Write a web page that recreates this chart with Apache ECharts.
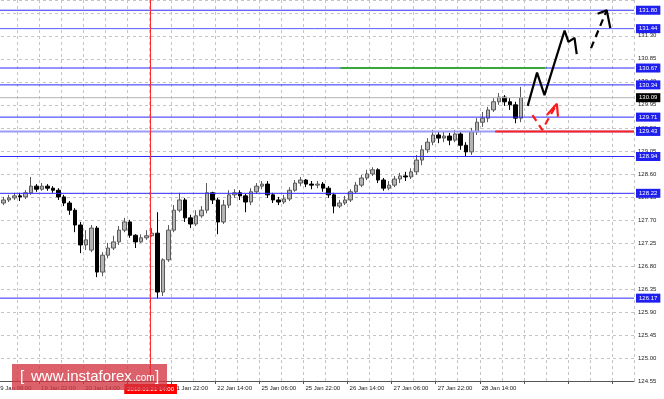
<!DOCTYPE html>
<html><head><meta charset="utf-8">
<script src="https://cdn.jsdelivr.net/npm/echarts@6/dist/echarts.min.js"></script>
<style>html,body{margin:0;padding:0;background:#fff;overflow:hidden;width:664px;height:399px;position:relative}
#c{position:absolute;left:-6px;top:0;width:670px;height:399px}</style>
</head><body><div id="c"></div><script>
// x-axis tick labels (every 16 hours = 8 two-hour slots)
const xLabels = ['19 Jan 06:00','19 Jan 22:00','20 Jan 14:00','21 Jan 06:00','21 Jan 22:00','22 Jan 14:00','25 Jan 06:00','25 Jan 22:00','26 Jan 14:00','27 Jan 06:00','27 Jan 22:00','28 Jan 14:00'];
// 2-hour candles
const opens = [128.03,128.09,128.13,128.17,128.15,128.23,128.36,128.30,128.36,128.32,128.28,128.15,128.03,127.89,127.60,127.21,127.11,127.54,126.68,127.01,127.15,127.27,127.50,127.66,127.40,127.27,127.35,127.39,127.44,126.29,126.92,127.50,127.89,128.09,127.74,127.62,127.78,127.89,128.23,128.09,127.66,127.99,128.19,128.23,128.17,128.05,128.25,128.36,128.40,128.19,128.09,128.05,128.11,128.28,128.42,128.48,128.40,128.38,128.40,128.32,128.19,127.97,128.03,128.09,128.25,128.38,128.52,128.60,128.68,128.48,128.32,128.38,128.50,128.56,128.54,128.64,128.87,129.07,129.22,129.36,129.30,129.34,129.26,129.38,129.16,129.03,129.42,129.61,129.69,129.85,130.01,130.10,130.01,129.95,129.69];
const closes = [128.09,128.13,128.17,128.15,128.23,128.36,128.30,128.36,128.32,128.28,128.15,128.03,127.89,127.60,127.21,127.31,127.54,126.68,127.01,127.15,127.27,127.50,127.66,127.40,127.27,127.35,127.39,127.44,126.29,126.92,127.50,127.89,128.09,127.74,127.62,127.78,127.89,128.23,128.09,127.66,127.99,128.19,128.23,128.17,128.05,128.25,128.36,128.40,128.19,128.09,128.05,128.11,128.28,128.42,128.48,128.40,128.38,128.40,128.32,128.19,127.97,128.03,128.09,128.25,128.38,128.52,128.60,128.68,128.48,128.32,128.38,128.50,128.56,128.54,128.64,128.87,129.07,129.22,129.36,129.30,129.34,129.26,129.38,129.16,129.03,129.42,129.61,129.69,129.85,130.01,130.10,130.01,129.95,129.69,130.09];
const lows = [127.99,128.05,128.09,128.07,128.11,128.19,128.25,128.27,128.27,128.23,128.09,127.97,127.80,127.46,127.05,127.11,127.07,126.58,126.60,126.95,127.11,127.21,127.46,127.35,127.15,127.25,127.31,127.37,126.17,126.21,126.88,127.46,127.85,127.66,127.54,127.58,127.74,127.83,128.01,127.42,127.62,127.93,128.13,128.09,127.85,127.99,128.21,128.30,128.13,128.03,127.99,128.01,128.07,128.25,128.36,128.34,128.30,128.32,128.25,128.13,127.83,127.93,127.99,128.05,128.21,128.34,128.48,128.56,128.42,128.27,128.28,128.34,128.42,128.46,128.50,128.58,128.77,129.01,129.16,129.20,129.22,129.16,129.22,129.07,128.93,128.97,129.36,129.52,129.61,129.81,129.95,129.93,129.85,129.59,129.61];
const highs = [128.15,128.19,128.23,128.23,128.28,128.54,128.40,128.42,128.40,128.36,128.32,128.19,128.07,127.93,127.66,127.50,127.60,127.58,127.07,127.25,127.39,127.58,127.74,127.70,127.42,127.42,127.50,127.54,127.85,126.95,127.60,127.99,128.23,128.13,127.80,127.89,127.97,128.42,128.25,128.13,128.09,128.28,128.30,128.28,128.21,128.32,128.42,128.46,128.46,128.23,128.15,128.19,128.34,128.48,128.54,128.50,128.46,128.46,128.44,128.36,128.23,128.09,128.17,128.30,128.44,128.58,128.68,128.73,128.71,128.52,128.46,128.56,128.62,128.64,128.71,128.97,129.16,129.30,129.46,129.42,129.42,129.40,129.46,129.42,129.22,129.50,129.69,129.81,129.91,130.08,130.18,130.14,130.08,130.01,130.30];
// support / resistance levels
const levels = [131.80,131.44,130.67,130.34,129.71,129.43,128.94,128.22,126.17];
const currentPrice = 130.09;
const markerSlot = 28.25; // vertical red line
const markerLabel = '2018.01.21 14:00';
// forecast arrows: [slot, price]
const blackPath = [[96.7,129.93],[98.4,130.58],[99.75,130.14],[103.4,131.40],[104.1,131.18],[105.2,131.26],[105.6,130.94]];
const blackDashed = [[108.2,131.06],[111.05,131.80]];
const blackDashedHead = [[109.4,131.73],[111.05,131.80],[111.7,131.45]];
const redPath = [[97.57,129.75],[99.33,129.46],[102.0,129.97]];
const redHead = [[100.2,129.75],[102.0,129.97],[102.2,129.72]];
const greenSeg = [[62.7,130.67],[99.9,130.67]];
const redSeg = [[90.8,129.43],[116,129.43]];

const FONT = 'Liberation Sans';
const X0 = 0, X1 = 116;
const chart = echarts.init(document.getElementById('c'), null, {renderer:'canvas'});
const candles = opens.map((o,i)=>[i+1.5,o,closes[i],lows[i],highs[i]]);
const lvlColors = {'131.44':'#5a5aff','129.43':'#9c9cf6'};

function levelSeries(v,color,width,bg){
  return {type:'line',data:[[X0,v],[X1,v]],showSymbol:false,symbol:'none',silent:true,animation:false,z:3,
    lineStyle:{color:color,width:width,type:'solid'},
    endLabel:{show:true,formatter:v.toFixed(2),backgroundColor:bg,color:'#fff',fontSize:6,fontFamily:FONT,
      padding:[2,3,1,3],distance:2,valueAnimation:false}};
}
function segSeries(data,color,width,dashed){
  return {type:'line',data:data,showSymbol:false,symbol:'none',silent:true,animation:false,z:5,
    lineStyle:{color:color,width:width,type:dashed?[7,5]:'solid',cap:'butt'}};
}
const levelList = levels.map(v=>levelSeries(v,lvlColors[v.toFixed(2)]||'#2a2aff',v===129.43?2:1,'#1f1ff0'));
const dash = {type:[3,3],color:'#c4c4c4',width:1};
chart.setOption({
  animation:false,
  backgroundColor:'#fff',
  grid:{left:0,right:30,top:0,bottom:18},
  xAxis:{type:'value',min:X0,max:X1,interval:8,
    axisLine:{show:true,onZero:false,lineStyle:{color:'#555',width:1}},
    axisTick:{show:true,length:3,lineStyle:{color:'#555'}},
    minorTick:{show:false,splitNumber:2},
    splitLine:{show:true,lineStyle:dash},
    minorSplitLine:{show:true,lineStyle:dash},
    axisLabel:{show:true,margin:4,fontSize:6,fontFamily:FONT,color:'#222',align:'left',padding:[0,0,0,2],
      showMinLabel:true,showMaxLabel:false,
      formatter:v=>{const k=Math.round(v/8);return (Math.abs(v-k*8)<1e-6&&k<xLabels.length)?xLabels[k]:'';}}
  },
  yAxis:{type:'value',position:'right',min:124.55,max:132.0,interval:0.45,scale:true,
    axisLine:{show:true,lineStyle:{color:'#555',width:1}},
    axisTick:{show:true,length:3,lineStyle:{color:'#555'}},
    splitLine:{show:true,lineStyle:dash},
    axisLabel:{margin:4,fontSize:6,fontFamily:FONT,color:'#222',showMaxLabel:false,
      formatter:v=>v>131.95?'':v.toFixed(2)}
  },
  graphic:[
    {type:'rect',z:100,shape:{x:18,y:364,width:155,height:26},style:{fill:'rgba(212,52,64,0.78)'}},
    {type:'text',z:101,x:26,y:377,style:{text:'[',fill:'#fff',font:'15px '+FONT,verticalAlign:'middle'}},
    {type:'text',z:101,x:37,y:377,style:{text:'www.instaforex',fill:'#fff',font:'15px '+FONT,verticalAlign:'middle'}},
    {type:'text',z:101,x:139,y:378,style:{text:'.com',fill:'#fff',font:'10px '+FONT,verticalAlign:'middle'}},
    {type:'text',z:101,x:161,y:377,style:{text:']',fill:'#fff',font:'15px '+FONT,verticalAlign:'middle'}}
  ],
  series:[
    {type:'candlestick',data:candles,encode:{x:0,y:[1,2,3,4]},barWidth:4,silent:true,z:2,
      itemStyle:{color:'#b4b4b4',color0:'#000',borderColor:'#5a5a5a',borderColor0:'#000',borderWidth:1}
    },
    ...levelList,
    levelSeries(currentPrice,'#b4b4b4',1,'#000'),
    segSeries(greenSeg,'#3aa83a',2,false),
    segSeries(redSeg,'#ff2020',2,false),
    {type:'line',data:[],silent:true,animation:false,z:4,
      markLine:{symbol:['none','none'],silent:true,animation:false,
        data:[{xAxis:markerSlot,lineStyle:{color:'#ff2a2a',width:1,type:'solid'},
          label:{show:true,position:'start',formatter:markerLabel,backgroundColor:'#ff0000',color:'#fff',fontSize:6,fontFamily:FONT,padding:[2,3,2,3],distance:3}}]}},
    segSeries(blackPath,'#000',2.2,false),
    segSeries(blackDashed,'#000',2.2,true),
    segSeries(blackDashedHead,'#000',2.2,false),
    segSeries(redPath,'#ff1a1a',2.2,true),
    segSeries(redHead,'#ff1a1a',2.2,false)
  ]
});
</script></body></html>
